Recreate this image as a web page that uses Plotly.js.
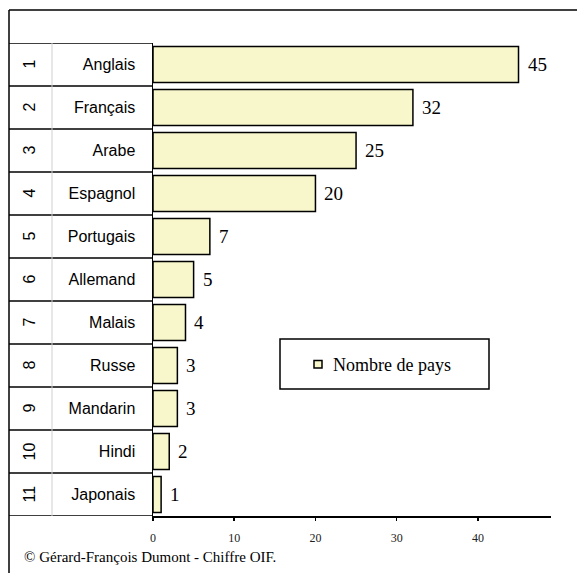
<!DOCTYPE html>
<html>
<head>
<meta charset="utf-8">
<script src="https://cdn.plot.ly/plotly-3.0.1.min.js"></script>
<style>html,body{margin:0;padding:0;background:#fff;}#chart{width:577px;height:573px;}</style>
</head>
<body>
<div id="chart"></div>
<script>
const ranks = [1, 2, 3, 4, 5, 6, 7, 8, 9, 10, 11];
const languages = ["Anglais", "Français", "Arabe", "Espagnol", "Portugais", "Allemand", "Malais", "Russe", "Mandarin", "Hindi", "Japonais"];
const countries = [45, 32, 25, 20, 7, 5, 4, 3, 3, 2, 1];
const xTicks = [0, 10, 20, 30, 40];
const seriesName = "Nombre de pays";
const footer = "© Gérard-François Dumont - Chiffre OIF.";

const W = 577, H = 573;
const mL = 153, mR = 26, mT = 43, mB = 57;
const pw = W - mL - mR, ph = H - mT - mB;
const xp = px => (px - mL) / pw;
const yp = py => (H - mB - py) / ph;

const serif = '"Liberation Serif", "Times New Roman", Times, serif';
const sans = 'Arial, "Liberation Sans", Helvetica, sans-serif';
const fill = '#F7F7CB';

const shapes = [];
// outer border (left + top)
shapes.push({type:'line', xref:'paper', yref:'paper', x0:xp(9), x1:xp(9), y0:yp(10), y1:yp(700), line:{color:'#000', width:1.5}});
shapes.push({type:'line', xref:'paper', yref:'paper', x0:xp(9), x1:xp(700), y0:yp(10), y1:yp(10), line:{color:'#000', width:1.5}});
// table row lines
for (let i = 0; i <= ranks.length; i++) {
  shapes.push({type:'line', xref:'paper', yref:'y', x0:xp(9), x1:0, y0:i + 0.5, y1:i + 0.5, line:{color:'#000', width:1.5}});
}
// faint column separator
shapes.push({type:'line', xref:'paper', yref:'y', x0:xp(52), x1:xp(52), y0:0.5, y1:ranks.length + 0.5, line:{color:'#d0d0d0', width:1}});
// legend box
shapes.push({type:'rect', xref:'paper', yref:'paper', x0:xp(280), x1:xp(489), y0:yp(389), y1:yp(339), line:{color:'#000', width:1.5}, fillcolor:'#fff'});
shapes.push({type:'rect', xref:'paper', yref:'paper', x0:xp(314), x1:xp(322), y0:yp(368), y1:yp(360.5), line:{color:'#000', width:1.5}, fillcolor:fill});

const annotations = [];
ranks.forEach((r, i) => {
  annotations.push({x: countries[i], y: r, xref:'x', yref:'y', text: String(countries[i]), showarrow:false, xanchor:'left', xshift:7, font:{family:serif, size:19, color:'#000'}});
  annotations.push({x: xp(29), y: r, xref:'paper', yref:'y', text: String(r), showarrow:false, xanchor:'center', yanchor:'middle', textangle:-90, font:{family:sans, size:16, color:'#000'}});
});
annotations.push({x: xp(331), y: yp(364.5), xref:'paper', yref:'paper', text: seriesName, showarrow:false, xanchor:'left', yanchor:'middle', font:{family:serif, size:18, color:'#000'}});
annotations.push({x: xp(22), y: yp(557), xref:'paper', yref:'paper', text: footer, showarrow:false, xanchor:'left', yanchor:'middle', font:{family:serif, size:15, color:'#000'}});

const data = [{
  type:'bar', orientation:'h', name: seriesName,
  x: countries, y: ranks, width: 0.84,
  marker:{color: fill, line:{color:'#000', width:1.5}},
  hoverinfo:'none'
}];

const layout = {
  width: W, height: H,
  margin:{l:mL, r:mR, t:mT, b:mB, pad:0},
  paper_bgcolor:'#fff', plot_bgcolor:'#fff',
  showlegend:false,
  xaxis:{range:[0,49], tickvals:xTicks, showgrid:false, zeroline:false, showline:true, linecolor:'#000', linewidth:1.5,
         ticks:'outside', ticklen:3, tickcolor:'#000', tickwidth:1.5, ticklabelstandoff:7,
         tickfont:{family:serif, size:12, color:'#222'}, fixedrange:true},
  yaxis:{range:[ranks.length + 0.5, 0.5], tickvals:ranks, ticktext:languages, showgrid:false, zeroline:false,
         showline:true, linecolor:'#000', linewidth:1.5, ticks:'', ticklabelstandoff:13,
         tickfont:{family:sans, size:16, color:'#000'}, fixedrange:true},
  shapes: shapes,
  annotations: annotations
};

Plotly.newPlot('chart', data, layout, {staticPlot:true});
</script>
</body>
</html>
